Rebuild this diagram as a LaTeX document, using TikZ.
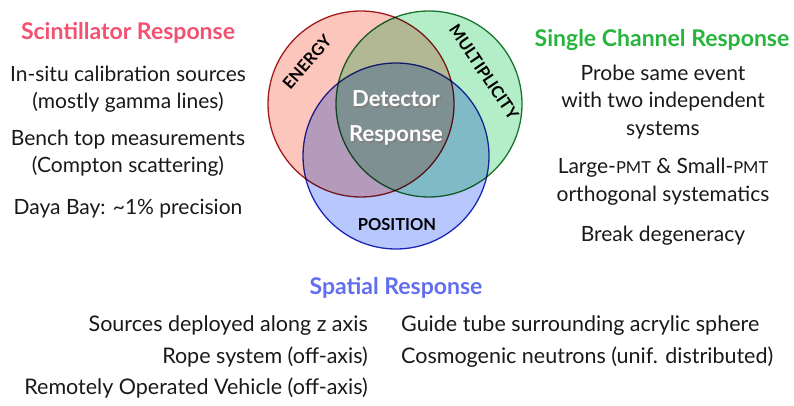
\documentclass[tikz,border=0pt]{standalone}
\usepackage{fontspec}
\setmainfont{Lato}
\usetikzlibrary{positioning}
\definecolor{energyfill}{RGB}{252,198,188}
\definecolor{energyline}{RGB}{165,30,35}
\definecolor{multfill}{RGB}{180,238,200}
\definecolor{multline}{RGB}{30,120,50}
\definecolor{posfill}{RGB}{184,200,254}
\definecolor{posline}{RGB}{35,45,185}
\definecolor{scinthead}{RGB}{242,82,112}
\definecolor{chanhead}{RGB}{40,180,60}
\definecolor{spathead}{RGB}{98,110,240}
\definecolor{bodytext}{RGB}{25,25,25}
\tikzset{
  set/.style={circle,draw,line width=1.3pt,inner sep=0pt,minimum size=186pt},
  setlabel/.style={font=\bfseries\fontsize{16.5}{18}\selectfont,text=black,inner sep=0pt},
  head/.style={font=\bfseries\fontsize{23}{26}\selectfont},
  body/.style={font=\fontsize{21}{27.5}\selectfont,align=center,text=bodytext},
  item/.style={font=\fontsize{21.5}{24}\selectfont,text=bodytext,inner sep=0pt}
}
\newcommand{\pmt}{{\fontsize{16.5}{18}\selectfont PMT}}

\begin{document}
\begin{tikzpicture}[x=1pt,y=-1pt]
  \useasboundingbox (0,0) rectangle (794,406);
  % the three sets
  \begin{scope}[blend group=multiply]
    \node[set,draw=energyline,fill=energyfill] (energy) at (361,104) {};
    \node[set,draw=multline,fill=multfill] (mult) at (429,104) {};
    \node[set,draw=posline,fill=posfill] (pos) at (396,156) {};
  \end{scope}
  \node[setlabel,rotate=49] (energylbl) at (307,62) {ENERGY};
  \node[setlabel,rotate=-56] (multlbl) at (484,72) {MULTIPLICITY};
  \node[setlabel] (poslbl) at (397,225) {POSITION};
  \node[font=\bfseries\fontsize{22}{35}\selectfont,align=center,text=black!50] at (397.5,119.5) {Detector\\Response};
  \node[font=\bfseries\fontsize{22}{35}\selectfont,align=center,text=white] (detector) at (396,118) {Detector\\Response};
  % scintillator
  \node[head,text=scinthead] (scint) at (128,33) {Scintillator Response};
  \node[body] (scint1) at (128,89) {In-situ calibration sources\\(mostly gamma lines)};
  \node[body] (scint2) at (128,153) {Bench top measurements\\(Compton scattering)};
  \node[body] (scint3) at (128,209) {Daya Bay: \textasciitilde1\% precision};
  % single channel
  \node[head,text=chanhead] (chan) at (662,40) {Single Channel Response};
  \node[body] (chan1) at (663,102) {Probe same event\\with two independent\\systems};
  \node[body] (chan2) at (663,181.5) {Large-\pmt{} \& Small-\pmt\\orthogonal systematics};
  \node[body] (chan3) at (663,236) {Break degeneracy};
  % spatial
  \node[head,text=spathead] (spat) at (396,288) {Spatial Response};
  \node[item,anchor=east] (spat1) at (368,326) {Sources deployed along z axis};
  \node[item,anchor=east] (spat2) at (368,357) {Rope system (off-axis)};
  \node[item,anchor=east] (spat3) at (368,388) {Remotely Operated Vehicle (off-axis)};
  \node[item,anchor=west] (spat4) at (401,326) {Guide tube surrounding acrylic sphere};
  \node[item,anchor=west] (spat5) at (401,357) {Cosmogenic neutrons (unif. distributed)};
\end{tikzpicture}
\end{document}
